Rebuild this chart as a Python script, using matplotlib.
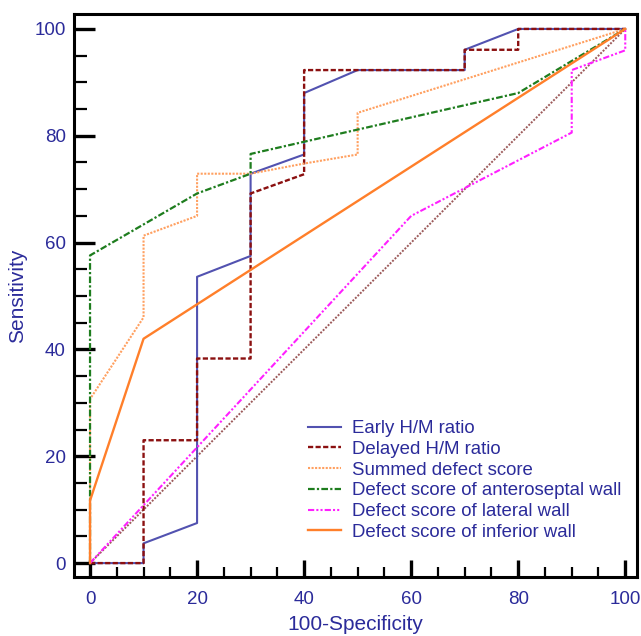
import numpy as np
import matplotlib
matplotlib.use("Agg")
import matplotlib.pyplot as plt
from matplotlib.ticker import MultipleLocator

plt.rcParams["font.family"] = ["Liberation Sans", "DejaVu Sans"]

TXT = "#2b2b9a"

# --- ROC curves (x = 100-Specificity, y = Sensitivity) ---
early_x = [0, 10, 10, 20, 20, 30, 30, 40, 40, 50, 70, 70, 80, 100]
early_y = [0, 0, 3.7, 7.5, 53.6, 57.5, 72.9, 76.5, 88.0, 92.3, 92.3, 96.1, 100, 100]

delayed_x = [0, 10, 10, 20, 20, 30, 30, 40, 40, 70, 70, 80, 80, 100]
delayed_y = [0, 0, 23.0, 23.0, 38.3, 38.3, 69.2, 72.8, 92.3, 92.3, 96.1, 96.1, 100, 100]

summed_x = [0, 0, 10, 10, 20, 20, 30, 40, 50, 50, 100]
summed_y = [0, 30.7, 46.0, 61.3, 65.0, 72.9, 72.9, 74.8, 76.5, 84.3, 100]

antero_x = [0, 0, 20, 30, 30, 80, 100]
antero_y = [0, 57.6, 69.2, 72.9, 76.6, 88.0, 100]

lateral_x = [0, 60, 90, 90, 100, 100]
lateral_y = [0, 65.0, 80.6, 92.3, 96.0, 100]

inferior_x = [0, 0, 10, 100]
inferior_y = [0, 11.7, 42.0, 100]

diag = [0, 100]

fig = plt.figure(figsize=(6.41, 6.36), dpi=100)
ax = fig.add_axes([0.1154, 0.0928, 0.8784, 0.8852])

ax.plot(diag, diag, color="#9c5a5a", lw=1.4, ls=(0, (1, 0.8)))
ax.plot(early_x, early_y, color="#5252b0", lw=1.5, label="Early H/M ratio")
ax.plot(delayed_x, delayed_y, color="#8b1010", lw=1.7, ls=(0, (2.2, 1.0)), label="Delayed H/M ratio")
ax.plot(summed_x, summed_y, color="#ffa060", lw=1.5, ls=(0, (1, 0.7)), label="Summed defect score")
ax.plot(antero_x, antero_y, color="#1e7d1e", lw=1.6, ls=(0, (3, 1, 1, 1)), label="Defect score of anteroseptal wall")
ax.plot(lateral_x, lateral_y, color="#ff20ff", lw=1.5, ls=(0, (3, 1, 1, 1, 1, 1)), label="Defect score of lateral wall")
ax.plot(inferior_x, inferior_y, color="#ff7f2a", lw=1.7, label="Defect score of inferior wall")

ax.set_xlim(-3.0, 102.2)
ax.set_ylim(-2.6, 102.8)
ax.xaxis.set_major_locator(MultipleLocator(20))
ax.yaxis.set_major_locator(MultipleLocator(20))
ax.xaxis.set_minor_locator(MultipleLocator(5))
ax.yaxis.set_minor_locator(MultipleLocator(5))
ax.tick_params(which="major", direction="in", length=12, width=2.4, labelsize=13.5,
               labelcolor=TXT, top=False, right=False)
ax.tick_params(which="minor", direction="in", length=7, width=1.6, top=False, right=False)
ax.tick_params(axis="x", which="major", pad=10)
ax.tick_params(axis="y", which="major", pad=6, length=15)
ax.tick_params(axis="y", which="minor", length=9)
for s in ax.spines.values():
    s.set_linewidth(2.2)

ax.set_xlabel("100-Specificity", fontsize=15, color=TXT, labelpad=5)
ax.set_ylabel("Sensitivity", fontsize=15, color=TXT, labelpad=5)

leg = ax.legend(loc="lower right", bbox_to_anchor=(0.973, 0.064), frameon=False, fontsize=13.4,
                handlelength=1.8, handletextpad=0.6, labelspacing=0.2, borderaxespad=0,
                borderpad=0)
for t in leg.get_texts():
    t.set_color(TXT)

fig.savefig("out.png", dpi=100)
